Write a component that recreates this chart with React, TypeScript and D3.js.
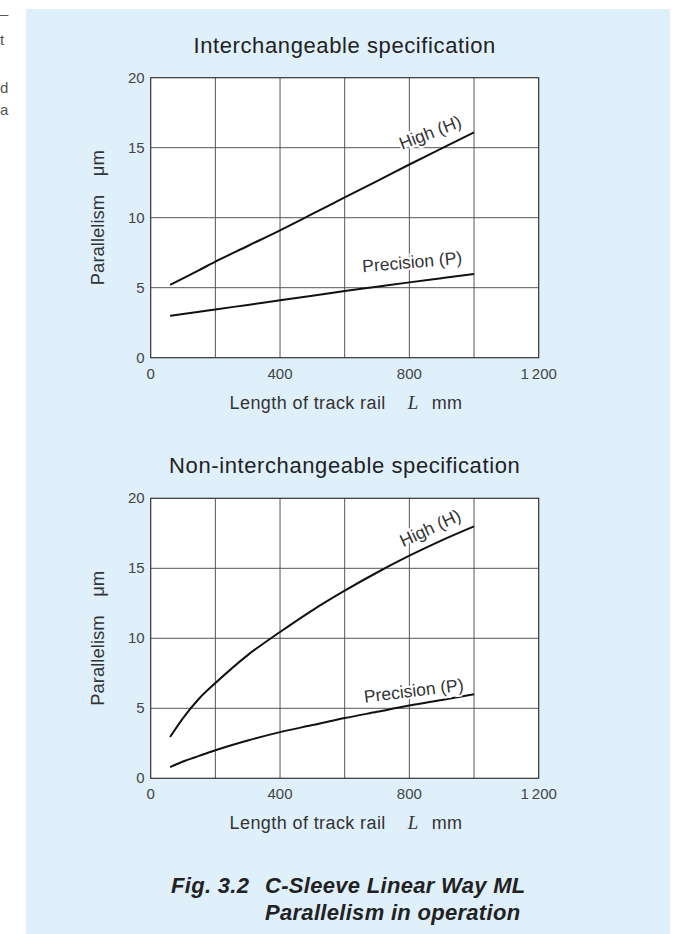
import React from "react";
import * as d3 from "d3";

// rail length L (mm) and parallelism (µm)
const lengths = [60, 100, 150, 200, 300, 400, 500, 600, 700, 800, 900, 1000];
const interHigh = [5.2, 5.67, 6.26, 6.86, 7.98, 9.1, 10.27, 11.45, 12.62, 13.8, 14.95, 16.1];
const interPrecision = [3.0, 3.12, 3.28, 3.45, 3.77, 4.1, 4.42, 4.76, 5.07, 5.38, 5.68, 5.98];
const nonHigh = [2.95, 4.3, 5.7, 6.8, 8.8, 10.45, 12.0, 13.4, 14.7, 15.9, 17.0, 18.0];
const nonPrecision = [0.8, 1.2, 1.6, 2.0, 2.7, 3.3, 3.8, 4.3, 4.75, 5.2, 5.6, 6.0];

const xTicks = [0, 400, 800, 1200];
const xGrid = [200, 400, 600, 800, 1000];
const yTicks = [0, 5, 10, 15, 20];

const charts = [
  {
    title: "Interchangeable specification",
    top: 77.7,
    series: [
      { name: "High (H)", values: interHigh, lx: 777, ly: 14.85, angle: -21 },
      { name: "Precision (P)", values: interPrecision, lx: 656, ly: 6.1, angle: -5 },
    ],
  },
  {
    title: "Non-interchangeable specification",
    top: 498.3,
    series: [
      { name: "High (H)", values: nonHigh, lx: 781, ly: 16.5, angle: -25 },
      { name: "Precision (P)", values: nonPrecision, lx: 662, ly: 5.4, angle: -7 },
    ],
  },
];

const font = "'Liberation Sans', Arial, sans-serif";
const W = 681;
const H = 934;
const left = 150.7;
const plotW = 388;
const plotH = 280;

function Chart({ chart }: { chart: (typeof charts)[number] }) {
  const x = d3.scaleLinear().domain([0, 1200]).range([left, left + plotW]);
  const y = d3.scaleLinear().domain([0, 20]).range([chart.top + plotH, chart.top]);
  const line = d3
    .line<number>()
    .x((_, i) => x(lengths[i]))
    .y((d) => y(d))
    .curve(d3.curveMonotoneX);
  const cx = x(600);

  return (
    <g>
      <text x={cx} y={chart.top - 25} textAnchor="middle" fontSize={22} letterSpacing={0.6} fill="#222" fontFamily={font}>
        {chart.title}
      </text>
      <rect x={x(0)} y={y(20)} width={plotW} height={plotH} fill="#fff" />
      {xGrid.map((v) => (
        <line key={"x" + v} x1={x(v)} x2={x(v)} y1={y(0)} y2={y(20)} stroke="#555" strokeWidth={1} />
      ))}
      {yTicks.slice(1, -1).map((v) => (
        <line key={"y" + v} x1={x(0)} x2={x(1200)} y1={y(v)} y2={y(v)} stroke="#555" strokeWidth={1} />
      ))}
      <rect x={x(0)} y={y(20)} width={plotW} height={plotH} fill="none" stroke="#333" strokeWidth={1.2} />
      {yTicks.map((v) => (
        <text key={"yt" + v} x={x(0) - 6} y={y(v) + 5} textAnchor="end" fontSize={15} fill="#444" fontFamily={font}>
          {v}
        </text>
      ))}
      {xTicks.map((v) => (
        <text key={"xt" + v} x={x(v)} y={y(0) + 21} textAnchor="middle" fontSize={15} fill="#444" fontFamily={font}>
          {v >= 1000 ? d3.format(",")(v).replace(",", "\u2009") : v}
        </text>
      ))}
      {chart.series.map((s) => (
        <path key={s.name} d={line(s.values) || ""} fill="none" stroke="#111" strokeWidth={2} />
      ))}
      {chart.series.map((s) => (
        <text
          key={"l" + s.name}
          transform={`translate(${x(s.lx)},${y(s.ly)}) rotate(${s.angle})`}
          fontSize={17.5}
          fill="#333"
          fontFamily={font}
          stroke="#fff"
          strokeWidth={4}
          paintOrder="stroke"
        >
          {s.name}
        </text>
      ))}
      <text
        transform={`translate(${x(0) - 47},${y(10)}) rotate(-90)`}
        textAnchor="middle"
        fontSize={18.5}
        fill="#333"
        fontFamily={font}
      >
        Parallelism{"\u2003"}μm
      </text>
      <g fontSize={18} letterSpacing={0.4} fill="#333" fontFamily={font}>
        <text x={cx + 41} y={y(0) + 51} textAnchor="end">
          Length of track rail
        </text>
        <text x={cx + 63} y={y(0) + 51} fontFamily="'Liberation Serif', 'DejaVu Serif', serif" fontStyle="italic" fontSize={19}>
          L
        </text>
        <text x={cx + 87} y={y(0) + 51}>
          mm
        </text>
      </g>
    </g>
  );
}

export default function App() {
  return (
    <svg width={W} height={H} style={{ position: "absolute", left: 0, top: 0, display: "block" }}>
      <rect x={0} y={0} width={W} height={H} fill="#fff" />
      <g fontFamily={font} fontSize={15} fill="#555">
        <text x={0} y={19}>–</text>
        <text x={0} y={45}>t</text>
        <text x={0} y={93}>d</text>
        <text x={0} y={115}>a</text>
      </g>
      <rect x={26} y={9} width={644} height={H - 9} fill="#dff0fb" />
      {charts.map((c) => (
        <Chart key={c.title} chart={c} />
      ))}
      <g fontFamily={font} fontWeight="bold" fontStyle="italic" fontSize={22} letterSpacing={0.3} fill="#222">
        <text x={171} y={893}>Fig. 3.2</text>
        <text x={265} y={893}>C-Sleeve Linear Way ML</text>
        <text x={265} y={920}>Parallelism in operation</text>
      </g>
    </svg>
  );
}
